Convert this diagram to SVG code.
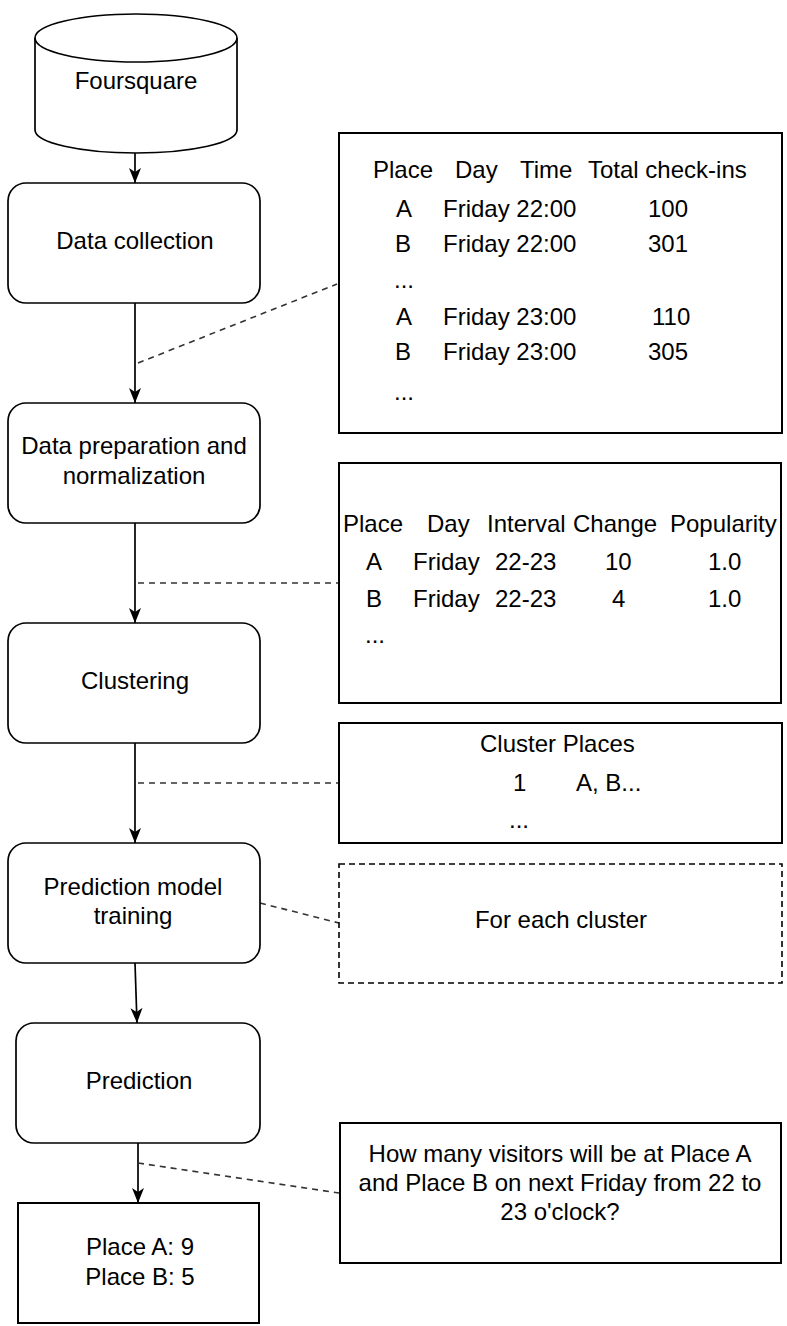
<svg xmlns="http://www.w3.org/2000/svg" width="787" height="1326" viewBox="0 0 787 1326">
<defs>
<style>
text{font-family:"Liberation Sans",Arial,sans-serif;font-size:24px;fill:#000}
.c{text-anchor:middle}
.box{fill:#fff;stroke:#000;stroke-width:1.7}
.tbl{fill:#fff;stroke:#000;stroke-width:2}
.dbox{fill:#fff;stroke:#000;stroke-width:1.6;stroke-dasharray:6 4}
.arrow{fill:none;stroke:#000;stroke-width:1.7;marker-end:url(#ah)}
.dash{fill:none;stroke:#333;stroke-width:1.6;stroke-dasharray:6 5}
</style>
<marker id="ah" markerUnits="userSpaceOnUse" markerWidth="16" markerHeight="14" viewBox="0 0 16 14" refX="15" refY="7" orient="auto">
<path d="M0,1 L15,7 L0,13 L4,7 Z" fill="#000"/>
</marker>
</defs>
<rect width="787" height="1326" fill="#fff"/>

<g id="connectors">
<line class="arrow" x1="135" y1="153" x2="135" y2="183"/>
<line class="arrow" x1="135" y1="303" x2="135" y2="403"/>
<line class="arrow" x1="135" y1="523" x2="135" y2="623"/>
<line class="arrow" x1="135" y1="743" x2="135" y2="843"/>
<line class="arrow" x1="135" y1="963" x2="137" y2="1023"/>
<line class="arrow" x1="138" y1="1143" x2="138" y2="1203"/>
<line class="dash" x1="138" y1="363" x2="337" y2="284"/>
<line class="dash" x1="138" y1="583" x2="339" y2="583"/>
<line class="dash" x1="138" y1="783" x2="339" y2="783"/>
<line class="dash" x1="260" y1="903" x2="339" y2="923"/>
<line class="dash" x1="138" y1="1163" x2="339" y2="1193"/>
</g>

<g id="foursquare">
<path class="box" d="M35,38 A101,24 0 0,1 237,38 L237,130 A101,23 0 0,1 35,130 Z"/>
<path class="box" fill="none" d="M35,38 A101,24 0 0,0 237,38"/>
<text class="c" x="136" y="89">Foursquare</text>
</g>

<g id="data-collection">
<rect class="box" x="8" y="183" width="252" height="120" rx="18"/>
<text class="c" x="135" y="249">Data collection</text>
</g>

<g id="data-preparation">
<rect class="box" x="8" y="403" width="252" height="120" rx="18"/>
<text class="c" x="134" y="454">Data preparation and</text>
<text class="c" x="134" y="484">normalization</text>
</g>

<g id="clustering">
<rect class="box" x="8" y="623" width="252" height="120" rx="18"/>
<text class="c" x="135" y="689">Clustering</text>
</g>

<g id="training">
<rect class="box" x="8" y="843" width="252" height="120" rx="18"/>
<text class="c" x="133" y="895">Prediction model</text>
<text class="c" x="133" y="924">training</text>
</g>

<g id="prediction">
<rect class="box" x="16" y="1023" width="244" height="120" rx="18"/>
<text class="c" x="139" y="1089">Prediction</text>
</g>

<g id="result">
<rect class="tbl" x="18" y="1203" width="241" height="120"/>
<text class="c" x="140" y="1255">Place A: 9</text>
<text class="c" x="140" y="1285">Place B: 5</text>
</g>

<g id="checkins-table">
<rect class="tbl" x="339" y="133" width="443" height="300"/>
<text x="373" y="178">Place</text>
<text x="455" y="178">Day</text>
<text x="520" y="178">Time</text>
<text x="588" y="178">Total check-ins</text>
<text x="396" y="217">A</text>
<text x="443" y="217">Friday 22:00</text>
<text x="648" y="217">100</text>
<text x="395" y="252">B</text>
<text x="443" y="252">Friday 22:00</text>
<text x="648" y="252">301</text>
<text x="394" y="288">...</text>
<text x="396" y="325">A</text>
<text x="443" y="325">Friday 23:00</text>
<text x="652" y="325">110</text>
<text x="395" y="360">B</text>
<text x="443" y="360">Friday 23:00</text>
<text x="648" y="360">305</text>
<text x="394" y="400">...</text>
</g>

<g id="popularity-table">
<rect class="tbl" x="339" y="463" width="442" height="240"/>
<text x="343" y="532">Place</text>
<text x="427" y="532">Day</text>
<text x="487" y="532">Interval</text>
<text x="573" y="532">Change</text>
<text x="670" y="532">Popularity</text>
<text x="366" y="570">A</text>
<text x="413" y="570">Friday</text>
<text x="495" y="570">22-23</text>
<text x="605" y="570">10</text>
<text x="708" y="570">1.0</text>
<text x="366" y="607">B</text>
<text x="413" y="607">Friday</text>
<text x="495" y="607">22-23</text>
<text x="612" y="607">4</text>
<text x="708" y="607">1.0</text>
<text x="365" y="643">...</text>
</g>

<g id="cluster-table">
<rect class="tbl" x="339" y="723" width="443" height="120"/>
<text x="480" y="752">Cluster Places</text>
<text x="513" y="791">1</text>
<text x="576" y="791">A, B...</text>
<text x="509" y="828">...</text>
</g>

<g id="for-each-cluster">
<rect class="dbox" x="339" y="864" width="443" height="119"/>
<text class="c" x="561" y="928">For each cluster</text>
</g>

<g id="question">
<rect class="tbl" x="340" y="1123" width="441" height="140"/>
<text class="c" x="560" y="1162">How many visitors will be at Place A</text>
<text class="c" x="560" y="1191">and Place B on next Friday from 22 to</text>
<text class="c" x="560" y="1220">23 o'clock?</text>
</g>
</svg>
